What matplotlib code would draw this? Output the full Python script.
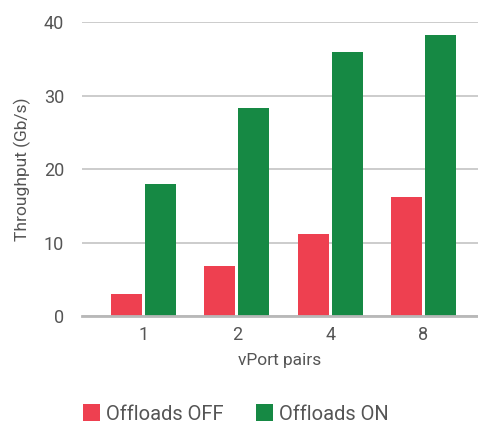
import numpy as np
import matplotlib
matplotlib.use('Agg')
import matplotlib.pyplot as plt

# --- data ---
pairs = ['1', '2', '4', '8']
offloads_off = [3.0, 6.8, 11.2, 16.2]
offloads_on = [18.0, 28.3, 36.0, 38.3]

red = '#ee4050'
green = '#168944'
text_col = '#555555'

plt.rcParams['font.family'] = ['Roboto', 'DejaVu Sans']

fig = plt.figure(figsize=(4.78, 4.23), dpi=100)
ax = fig.add_axes([82/478, 1 - 316/423, 1 - 82/478, (316 - 22.3)/423])

x = np.arange(len(pairs))
w = 0.332
ax.bar(x - 0.182, offloads_off, width=w, color=red, label='Offloads OFF', zorder=3)
ax.bar(x + 0.182, offloads_on, width=w, color=green, label='Offloads ON', zorder=3)

ax.set_xlim(-0.66, 3.585)
ax.set_ylim(0, 40)
ax.set_yticks([0, 10, 20, 30, 40])
ax.set_xticks(x)
ax.set_xticklabels(pairs)

ax.yaxis.grid(True, color='#c8c8c8', linewidth=1.3, zorder=0)
for s in ['top', 'right', 'left']:
    ax.spines[s].set_visible(False)
ax.spines['bottom'].set_color('#b8b8b8')
ax.spines['bottom'].set_linewidth(2)
ax.spines['bottom'].set_zorder(4)

ax.tick_params(axis='both', length=0, labelsize=13, colors=text_col)
ax.tick_params(axis='x', pad=7)
ax.tick_params(axis='y', pad=13)

ax.set_ylabel('Throughput (Gb/s)', fontsize=12.5, color=text_col, labelpad=9)
ax.set_xlabel('vPort pairs', fontsize=12.5, color=text_col, labelpad=7)

fig.legend(loc='center', bbox_to_anchor=(236/478, 1 - 414/423), ncol=2,
           frameon=False, fontsize=14.5, labelcolor=text_col,
           handlelength=0.85, handleheight=0.85, handletextpad=0.3,
           columnspacing=1.6)

fig.savefig('out.png', dpi=100)
